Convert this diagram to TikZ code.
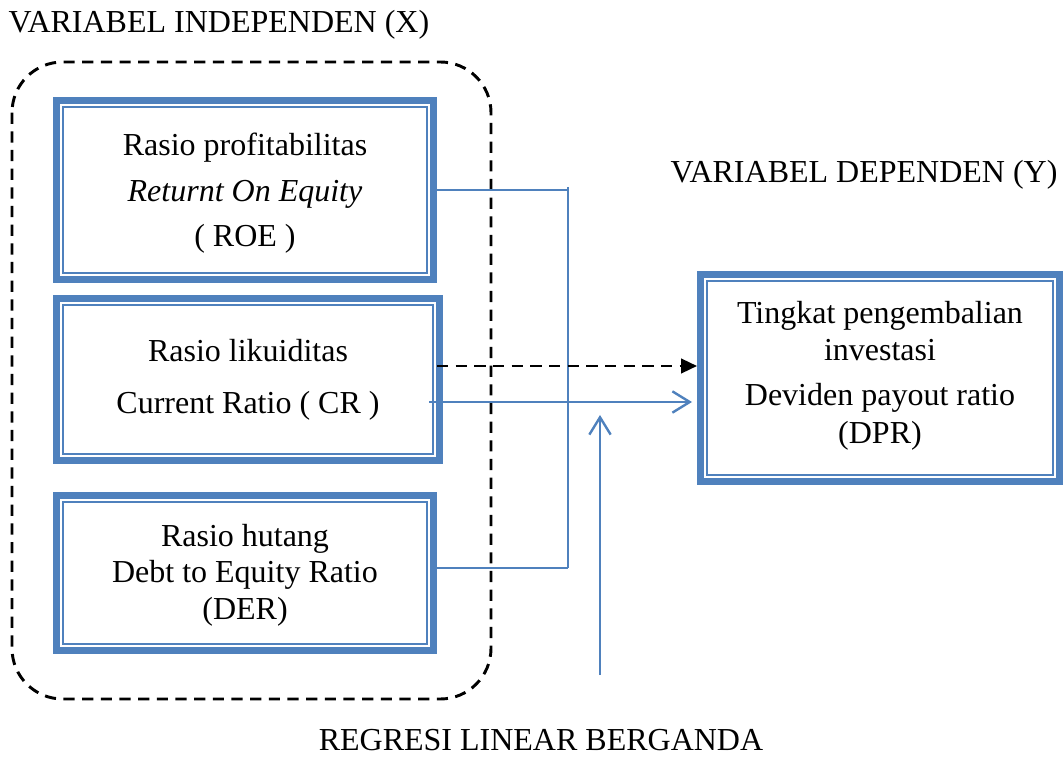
\documentclass[tikz,border=0pt]{standalone}
\usepackage{fontspec}
\setmainfont{Liberation Serif}
\usetikzlibrary{arrows.meta}
\definecolor{bl}{HTML}{4F81BD}
\begin{document}
\begin{tikzpicture}[x=0.375pt,y=-0.375pt,
  vbox/.style={draw=bl, line width=2.6pt, align=center, inner sep=0pt,
    path picture={\draw[bl,line width=0.75pt]
      ([shift={(2.44pt,-2.44pt)}]path picture bounding box.north west) rectangle
      ([shift={(-2.44pt,2.44pt)}]path picture bounding box.south east);}},
  lbl/.style={inner sep=0pt, font=\fontsize{12}{14}\selectfont},
  conn/.style={draw=bl, line width=0.9pt},
  openarrow/.style={conn, -{Straight Barb[length=6.5pt,width=8pt,line width=0.9pt]}},
  dashline/.style={draw=black, line width=1.1pt, dash pattern=on 4.2pt off 2.8pt},
  dasharrow/.style={dashline, -{Triangle[length=6pt,width=5.4pt]}}
]
\useasboundingbox (0,0) rectangle (1064,773);

% group frame
\draw[dashline, rounded corners=19pt] (12,62) rectangle (491,699);

% boxes
\node[vbox, minimum width=141.4pt, minimum height=67.1pt, font=\fontsize{12}{17}\selectfont] (roe) at (245,190)
  {\rule{0pt}{11pt}Rasio profitabilitas\\ \textit{Returnt On Equity}\\ ( ROE )};
\node[vbox, minimum width=143.6pt, minimum height=60.75pt, font=\fontsize{12}{19.5}\selectfont] (cr) at (248,379.5)
  {Rasio likuiditas\\ Current Ratio ( CR )};
\node[vbox, minimum width=141.4pt, minimum height=58.1pt, font=\fontsize{12}{13.7}\selectfont] (der) at (245,573)
  {\rule{0pt}{9.8pt}Rasio hutang\\ Debt to Equity Ratio\\ (DER)};
\node[vbox, minimum width=134.6pt, minimum height=77.6pt, font=\fontsize{12}{14}\selectfont] (dpr) at (880,378)
  {Tingkat pengembalian\\ investasi\\[3pt] Deviden payout ratio\\ (DPR)\rule[-4.5pt]{0pt}{0pt}};

% labels
\node[lbl, anchor=base west] (lx) at (8,33) {VARIABEL INDEPENDEN (X)};
\node[lbl, anchor=base east] (ly) at (1058,183) {VARIABEL DEPENDEN (Y)};
\node[lbl, anchor=base] (lr) at (541,750) {REGRESI LINEAR BERGANDA};

% connectors
\coordinate (j1) at (568,190);
\coordinate (j2) at (568,568);
\draw[conn] (roe.east) -- (j1);
\draw[conn] (568,187) -- (j2);
\draw[conn] (der.east |- j2) -- (j2);

\coordinate (m0) at (429,402);
\coordinate (m1) at (692,402);
\draw[openarrow] (m0) -- (m1);

\coordinate (d0) at (437,366);
\draw[dasharrow] (d0) -- (dpr.west |- d0);

\coordinate (u0) at (600,675);
\coordinate (u1) at (600,415);
\draw[openarrow] (u0) -- (u1);
\end{tikzpicture}
\end{document}
